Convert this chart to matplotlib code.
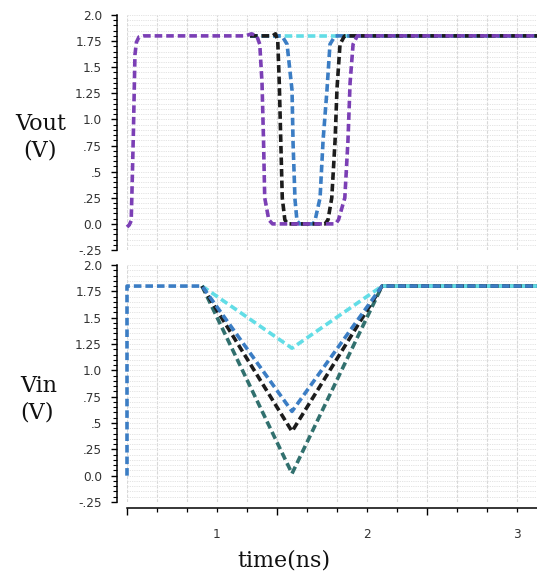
import matplotlib.pyplot as plt
from matplotlib.ticker import MultipleLocator, FixedLocator
import numpy as np

# ---- Vout (top panel), time in ns, volts ----
t_out_purple = [0.4, 0.415, 0.428, 0.433, 0.443, 0.453, 0.463, 0.48, 0.51, 1.19, 1.23, 1.265,
                1.285, 1.3, 1.31, 1.318, 1.345, 1.37, 1.79, 1.81, 1.852, 1.873, 1.887, 1.907, 1.935, 3.2]
v_out_purple = [-0.03, -0.01, 0.03, 0.3, 0.9, 1.62, 1.74, 1.79, 1.8, 1.8, 1.82, 1.8,
                1.72, 1.35, 0.8, 0.25, 0.04, 0.0, 0.0, 0.04, 0.25, 0.8, 1.35, 1.72, 1.8, 1.8]

t_out_black = [1.22, 1.37, 1.39, 1.405, 1.415, 1.425, 1.435, 1.452, 1.47,
               1.72, 1.74, 1.765, 1.787, 1.8, 1.82, 1.85, 3.2]
v_out_black = [1.8, 1.8, 1.82, 1.75, 1.35, 0.8, 0.25, 0.04, 0.0,
               0.0, 0.04, 0.25, 0.8, 1.3, 1.72, 1.8, 1.8]

t_out_blue = [1.22, 1.433, 1.467, 1.5, 1.507, 1.52, 1.533, 1.55,
              1.64, 1.653, 1.687, 1.707, 1.733, 1.753, 1.787, 3.2]
v_out_blue = [1.8, 1.8, 1.72, 1.28, 0.77, 0.23, 0.03, 0.0,
              0.0, 0.03, 0.25, 0.8, 1.28, 1.72, 1.8, 1.8]

t_out_cyan = [1.22, 3.2]
v_out_cyan = [1.8, 1.8]

# ---- Vin (bottom panel) ----
t_in_blue = [0.4, 0.4, 0.9, 1.5, 2.1, 3.2]
v_in_blue = [0.0, 1.8, 1.8, 0.61, 1.8, 1.8]
t_in = [0.9, 1.5, 2.1, 3.2]
v_in_cyan = [1.8, 1.21, 1.8, 1.8]
v_in_black = [1.8, 0.42, 1.8, 1.8]
v_in_teal = [1.8, 0.02, 1.8, 1.8]

y_ticks = [-0.25, 0.0, 0.25, 0.5, 0.75, 1.0, 1.25, 1.5, 1.75, 2.0]
y_labels = ['-.25', '0.0', '.25', '.5', '.75', '1.0', '1.25', '1.5', '1.75', '2.0']
x_labels = ['1', '2', '3']

PURPLE = '#7b3fb5'
BLACK = '#1c1c1c'
BLUE = '#3b7dc4'
CYAN = '#62dde6'
TEAL = '#31706e'
DASH = (0, (2.1, 1.1))
LW = 2.6

fig = plt.figure(figsize=(5.37, 5.73), dpi=100)
ax1 = fig.add_axes([127/537, 1-250/573, 410/537, 235/573])
ax2 = fig.add_axes([127/537, 1-502/573, 410/537, 237/573])


def style_axis(ax):
    ax.set_xlim(0.4, 3.133)
    ax.set_ylim(-0.25, 2.0)
    ax.set_yticks(y_ticks)
    ax.set_yticklabels(y_labels)
    ax.yaxis.set_minor_locator(MultipleLocator(0.05))
    ax.xaxis.set_major_locator(FixedLocator([0.4, 1.4, 2.4]))
    ax.xaxis.set_minor_locator(FixedLocator(np.arange(0.4, 3.2, 0.2)))
    for s in ['top', 'right']:
        ax.spines[s].set_visible(False)
    ax.spines['left'].set_position(('outward', 7.2))
    ax.spines['left'].set_linewidth(1.1)
    ax.tick_params(axis='y', which='major', length=4.3, width=1.0, pad=6.5,
                   labelsize=8.7, labelcolor='#333333')
    ax.tick_params(axis='y', which='minor', length=2.8, width=0.8)
    ax.grid(which='both', axis='y', color='#e0e0e0', linestyle=(0, (1.5, 1.2)), lw=0.6)
    ax.grid(which='both', axis='x', color='#d8d8d8', linestyle=(0, (3, 1.2)), lw=0.8)
    ax.set_axisbelow(True)


style_axis(ax1)
style_axis(ax2)

ax1.spines['bottom'].set_visible(False)
ax1.tick_params(axis='x', which='both', bottom=False, labelbottom=False)

ax2.spines['bottom'].set_position(('outward', 4.3))
ax2.spines['bottom'].set_linewidth(1.1)
ax2.tick_params(axis='x', which='major', length=5, width=1.0, labelbottom=False)
ax2.tick_params(axis='x', which='minor', length=3, width=0.9)

sec = ax2.secondary_xaxis('bottom')
sec.set_xticks([1, 2, 3])
sec.set_xticklabels(x_labels)
sec.tick_params(length=0, pad=19, labelsize=8.7, labelcolor='#333333')
sec.spines['bottom'].set_visible(False)

kw = dict(lw=LW, linestyle=DASH, clip_on=False)
ax1.plot(t_out_cyan, v_out_cyan, color=CYAN, **kw)
ax1.plot(t_out_blue, v_out_blue, color=BLUE, **kw)
ax1.plot(t_out_black, v_out_black, color=BLACK, **kw)
ax1.plot(t_out_purple, v_out_purple, color=PURPLE, **kw)

ax2.plot(t_in, v_in_teal, color=TEAL, **kw)
ax2.plot(t_in, v_in_cyan, color=CYAN, **kw)
ax2.plot(t_in, v_in_black, color=BLACK, **kw)
ax2.plot(t_in_blue, v_in_blue, color=BLUE, **kw)

serif = dict(family='DejaVu Serif', size=16, color='#111111', va='baseline', ha='left')
fig.text(15/537, 1-130/573, 'Vout', **serif)
fig.text(23/537, 1-157/573, '(V)', **serif)
fig.text(20/537, 1-392/573, 'Vin', **serif)
fig.text(20/537, 1-418/573, '(V)', **serif)
fig.text(237/537, 1-567/573, 'time(ns)', **serif)

fig.savefig('out.png', dpi=100)
